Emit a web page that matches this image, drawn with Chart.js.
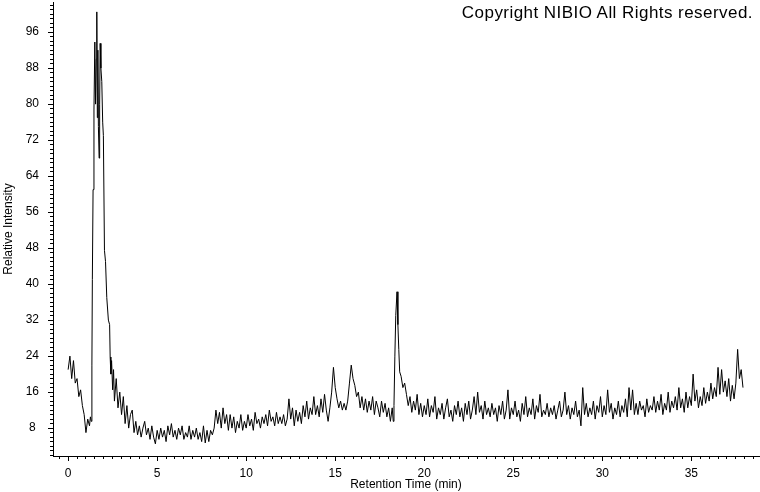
<!DOCTYPE html>
<html>
<head>
<meta charset="utf-8">
<script src="https://cdn.jsdelivr.net/npm/chart.js@4.4.1/dist/chart.umd.min.js"></script>
<style>
  html, body { margin: 0; padding: 0; background: #fff; }
  #wrap { position: relative; width: 760px; height: 492px; }
  #copyright {
    position: absolute; right: 7px; top: 4px;
    font: 17px "Liberation Sans", Arial, sans-serif; line-height: 17px;
    letter-spacing: 0.45px; color: #000;
  }
</style>
</head>
<body>
<div id="wrap">
  <canvas id="chromChart" width="760" height="492"></canvas>
  <div id="copyright">Copyright NIBIO All Rights reserved.</div>
</div>
<script>
// retention times (min)
const retentionTimes = [
  0.0, 0.1, 0.2, 0.3, 0.4, 0.5, 0.6, 0.7, 0.8, 0.9,
  1.0, 1.1, 1.2, 1.25, 1.3, 1.33, 1.34, 1.36, 1.4, 1.45,
  1.5, 1.54, 1.58, 1.61, 1.64, 1.67, 1.7, 1.74, 1.77, 1.8,
  1.84, 1.89, 1.94, 1.98, 2.04, 2.1, 2.17, 2.26, 2.33, 2.36,
  2.4, 2.44, 2.5, 2.55, 2.6, 2.7, 2.8, 2.9,
  3.0, 3.1, 3.2, 3.3, 3.4, 3.5, 3.6, 3.7, 3.8, 3.9,
  4.0, 4.1, 4.2, 4.3, 4.4, 4.5, 4.6, 4.7, 4.8, 4.9,
  5.0, 5.1, 5.2, 5.3, 5.4, 5.5, 5.6, 5.7, 5.8, 5.9,
  6.0, 6.1, 6.2, 6.3, 6.4, 6.5, 6.6, 6.7, 6.8, 6.9,
  7.0, 7.1, 7.2, 7.3, 7.4, 7.5, 7.6, 7.7, 7.8, 7.9,
  8.0, 8.1, 8.2, 8.3, 8.4, 8.5, 8.6, 8.7, 8.8, 8.9,
  9.0, 9.1, 9.2, 9.3, 9.4, 9.5, 9.6, 9.7, 9.8, 9.9,
  10.0, 10.1, 10.2, 10.3, 10.4, 10.5, 10.6, 10.7, 10.8, 10.9,
  11.0, 11.1, 11.2, 11.3, 11.4, 11.5, 11.6, 11.7, 11.8, 11.9,
  12.0, 12.1, 12.2, 12.3, 12.4, 12.5, 12.6, 12.7, 12.8, 12.9,
  13.0, 13.1, 13.2, 13.3, 13.4, 13.5, 13.6, 13.7, 13.8, 13.9,
  14.0, 14.1, 14.2, 14.3, 14.4, 14.5, 14.6, 14.7, 14.8, 14.9,
  15.0, 15.1, 15.2, 15.3, 15.4, 15.5, 15.6, 15.7, 15.8, 15.9,
  16.0, 16.1, 16.2, 16.3, 16.4, 16.5, 16.6, 16.7, 16.8, 16.9,
  17.0, 17.1, 17.2, 17.3, 17.4, 17.5, 17.6, 17.7, 17.8, 17.9,
  18.0, 18.1, 18.2, 18.26, 18.3, 18.35, 18.4, 18.47, 18.52, 18.57, 18.62, 18.7, 18.8, 18.9,
  19.0, 19.1, 19.2, 19.3, 19.4, 19.5, 19.6, 19.7, 19.8, 19.9,
  20.0, 20.1, 20.2, 20.3, 20.4, 20.5, 20.6, 20.7, 20.8, 20.9,
  21.0, 21.1, 21.2, 21.3, 21.4, 21.5, 21.6, 21.7, 21.8, 21.9,
  22.0, 22.1, 22.2, 22.3, 22.4, 22.5, 22.6, 22.7, 22.8, 22.9,
  23.0, 23.1, 23.2, 23.3, 23.4, 23.5, 23.6, 23.7, 23.8, 23.9,
  24.0, 24.1, 24.2, 24.3, 24.4, 24.5, 24.6, 24.7, 24.8, 24.9,
  25.0, 25.1, 25.2, 25.3, 25.4, 25.5, 25.6, 25.7, 25.8, 25.9,
  26.0, 26.1, 26.2, 26.3, 26.4, 26.5, 26.6, 26.7, 26.8, 26.9,
  27.0, 27.1, 27.2, 27.3, 27.4, 27.5, 27.6, 27.7, 27.8, 27.9,
  28.0, 28.1, 28.2, 28.3, 28.4, 28.5, 28.6, 28.7, 28.8, 28.9,
  29.0, 29.1, 29.2, 29.3, 29.4, 29.5, 29.6, 29.7, 29.8, 29.9,
  30.0, 30.1, 30.2, 30.3, 30.4, 30.5, 30.6, 30.7, 30.8, 30.9,
  31.0, 31.1, 31.2, 31.3, 31.4, 31.5, 31.6, 31.7, 31.8, 31.9,
  32.0, 32.1, 32.2, 32.3, 32.4, 32.5, 32.6, 32.7, 32.8, 32.9,
  33.0, 33.1, 33.2, 33.3, 33.4, 33.5, 33.6, 33.7, 33.8, 33.9,
  34.0, 34.1, 34.2, 34.3, 34.4, 34.5, 34.6, 34.7, 34.8, 34.9,
  35.0, 35.1, 35.2, 35.3, 35.4, 35.5, 35.6, 35.7, 35.8, 35.9,
  36.0, 36.1, 36.2, 36.3, 36.4, 36.5, 36.6, 36.7, 36.8, 36.9,
  37.0, 37.1, 37.2, 37.3, 37.4, 37.5, 37.6, 37.7, 37.8, 37.9
];

// relative intensity, same order as retentionTimes
const intensity = [
  21, 24, 19, 23, 18, 19, 15, 16.5, 13, 11,
  7, 10, 8.5, 10.5, 9.5, 10, 22, 41, 61, 78.7,
  93.8, 80, 90, 100.5, 77, 92, 75, 68, 80, 93.5,
  88, 85, 76, 73, 47.5, 45, 37, 32, 31, 23.8,
  20, 23, 16.5, 21, 14, 19, 12.5, 16,
  11, 15, 9, 13, 8, 11, 12, 7, 9.5, 6.5,
  8.5, 6, 8, 9.5, 6.5, 8, 5.5, 8.5, 6, 4.5,
  7.5, 5.5, 8, 6, 7.5, 5, 8.5, 6.5, 9, 6,
  7.5, 5.5, 8, 6.5, 8.5, 5.5, 7, 6, 8.5, 5.5,
  7.5, 6, 8, 5.5, 7, 5, 8.5, 4.7, 7.5, 5,
  7.5, 6.5, 8, 12, 9, 11.5, 8, 12.5, 9, 11,
  7.5, 11, 8, 10.5, 7, 9.5, 8, 11, 7.5, 9.5,
  8, 11, 8.5, 10, 7.5, 11.5, 9, 10, 8, 10.5,
  9, 11, 8.5, 12, 9.5, 10.5, 8.5, 11.5, 9, 10.5,
  9, 11, 8.5, 10, 14.5, 10, 12.5, 8.5, 12, 9.5,
  11.5, 9, 13, 10.5, 14, 10, 12.5, 11, 15, 11,
  13, 10.5, 14.5, 11.5, 15.5, 12, 9.5, 12.5, 16, 21.5,
  17, 14.5, 12.5, 14, 12, 13.5, 12, 14, 18, 22,
  19, 17.5, 15, 16, 12.5, 15, 12, 14.5, 11.5, 14,
  12, 15, 11, 14, 12.5, 10.5, 14, 11.5, 13.5, 10.5,
  12.5, 9.5, 12.5, 9.5, 13, 24, 33, 38.3, 31, 25.5, 20.5, 19.5, 17, 18,
  15.5, 13, 15, 11.5, 14, 12, 15.5, 11, 13.5, 10.5,
  13, 11, 14.5, 10.5, 13, 11.5, 15, 10, 12.5, 11,
  13.5, 10, 12.5, 14.5, 10.5, 12, 9.5, 13, 11, 14,
  10.5, 12.5, 9.5, 13.5, 11, 14, 10, 12, 15, 11,
  16, 11.5, 13, 10, 14, 11, 12.5, 10.5, 13.5, 11,
  12.5, 9.5, 13, 11, 14, 10, 12, 16.5, 10, 12.5,
  11, 14, 10.5, 12, 9.5, 13.5, 11, 15, 10.5, 12.5,
  11, 14.5, 10, 13, 11.5, 15.5, 10.5, 12, 11, 13.5,
  10.5, 12.5, 11, 13, 10, 12, 14, 10.5, 12, 16,
  11, 13, 10, 12.5, 11, 14, 10.5, 12, 8.5, 17,
  11, 13.5, 10.5, 12.5, 11, 14, 10, 13, 11.5, 15,
  10.5, 13, 11, 16.5, 11.5, 13.5, 10, 12.5, 11, 14,
  10.5, 13, 11.5, 14.5, 10.5, 17, 12, 16.5, 11, 13.5,
  11, 14, 12, 13, 10.5, 14.5, 11.5, 13, 12, 15,
  11.5, 14, 12, 15.5, 11, 13.5, 12, 16, 11.5, 14,
  12.5, 15, 12, 17, 12.5, 14.5, 11.5, 16, 12.5, 15,
  13, 20, 14, 16.5, 12.5, 15, 13, 17, 13.5, 16,
  14, 18, 14.5, 17, 15, 21.5, 15.5, 21, 16, 18.5,
  15, 19, 14, 17.5, 14.5, 18, 25.5, 19, 21, 17
];

// axis ranges
const xMin = -0.85, xMax = 38.8;
const yMin = 1.8, yMax = 102.7;

const tickFont = { family: "'Liberation Sans', Arial, sans-serif", size: 12 };

// keep the vertical axes from reserving room for half a label at the ends
function fitVertical(width) {
  return (s) => {
    s.width = width;
    s.paddingTop = 0;
    s.paddingBottom = 0;
  };
}

const ctx = document.getElementById("chromChart").getContext("2d");
const chromChart = new Chart(ctx, {
  type: "line",
  data: {
    labels: retentionTimes,
    datasets: [
      {
        label: "Relative Intensity",
        data: intensity,
        borderColor: "#000",
        borderWidth: 1,
        pointRadius: 0,
        tension: 0,
        fill: false,
        xAxisID: "x",
        yAxisID: "y",
      },
    ],
  },
  options: {
    responsive: false,
    animation: false,
    layout: { padding: { left: 0, right: 1, top: 2, bottom: 0 } },
    plugins: { legend: { display: false }, tooltip: { enabled: false } },
    scales: {
      x: {
        type: "linear",
        position: "bottom",
        min: xMin,
        max: xMax,
        weight: 1,
        afterFit: (s) => { s.height = 36; },
        border: { display: true, color: "#000", width: 1 },
        grid: { drawOnChartArea: false, drawTicks: true, tickLength: 5, color: "#000" },
        ticks: {
          stepSize: 5,
          includeBounds: false,
          autoSkip: false,
          maxRotation: 0,
          padding: 5,
          color: "#000",
          font: tickFont,
        },
        title: {
          display: true,
          text: "Retention Time (min)",
          color: "#000",
          font: tickFont,
          padding: 0,
        },
      },
      xMinor: {
        type: "linear",
        position: "bottom",
        min: xMin,
        max: xMax,
        weight: 0,
        afterFit: (s) => { s.height = 0; },
        border: { display: false },
        grid: { drawOnChartArea: false, drawTicks: true, tickLength: 3, color: "#000" },
        ticks: { stepSize: 0.5, includeBounds: false, autoSkip: false, display: false },
      },
      y: {
        type: "linear",
        position: "left",
        min: yMin,
        max: yMax,
        weight: 1,
        afterFit: fitVertical(53),
        border: { display: true, color: "#000", width: 1 },
        grid: { drawOnChartArea: false, drawTicks: true, tickLength: 5, color: "#000" },
        ticks: {
          stepSize: 8,
          includeBounds: false,
          autoSkip: false,
          crossAlign: "center",
          padding: 9,
          color: "#000",
          font: tickFont,
        },
        title: {
          display: true,
          text: "Relative Intensity",
          color: "#000",
          font: tickFont,
          padding: { top: 1, bottom: 1 },
        },
      },
      yMinor: {
        type: "linear",
        position: "left",
        min: yMin,
        max: yMax,
        weight: 0,
        afterFit: fitVertical(0),
        border: { display: false },
        grid: { drawOnChartArea: false, drawTicks: true, tickLength: 3, color: "#000" },
        ticks: { stepSize: 1, includeBounds: false, autoSkip: false, display: false },
      },
    },
  },
});
</script>
</body>
</html>
